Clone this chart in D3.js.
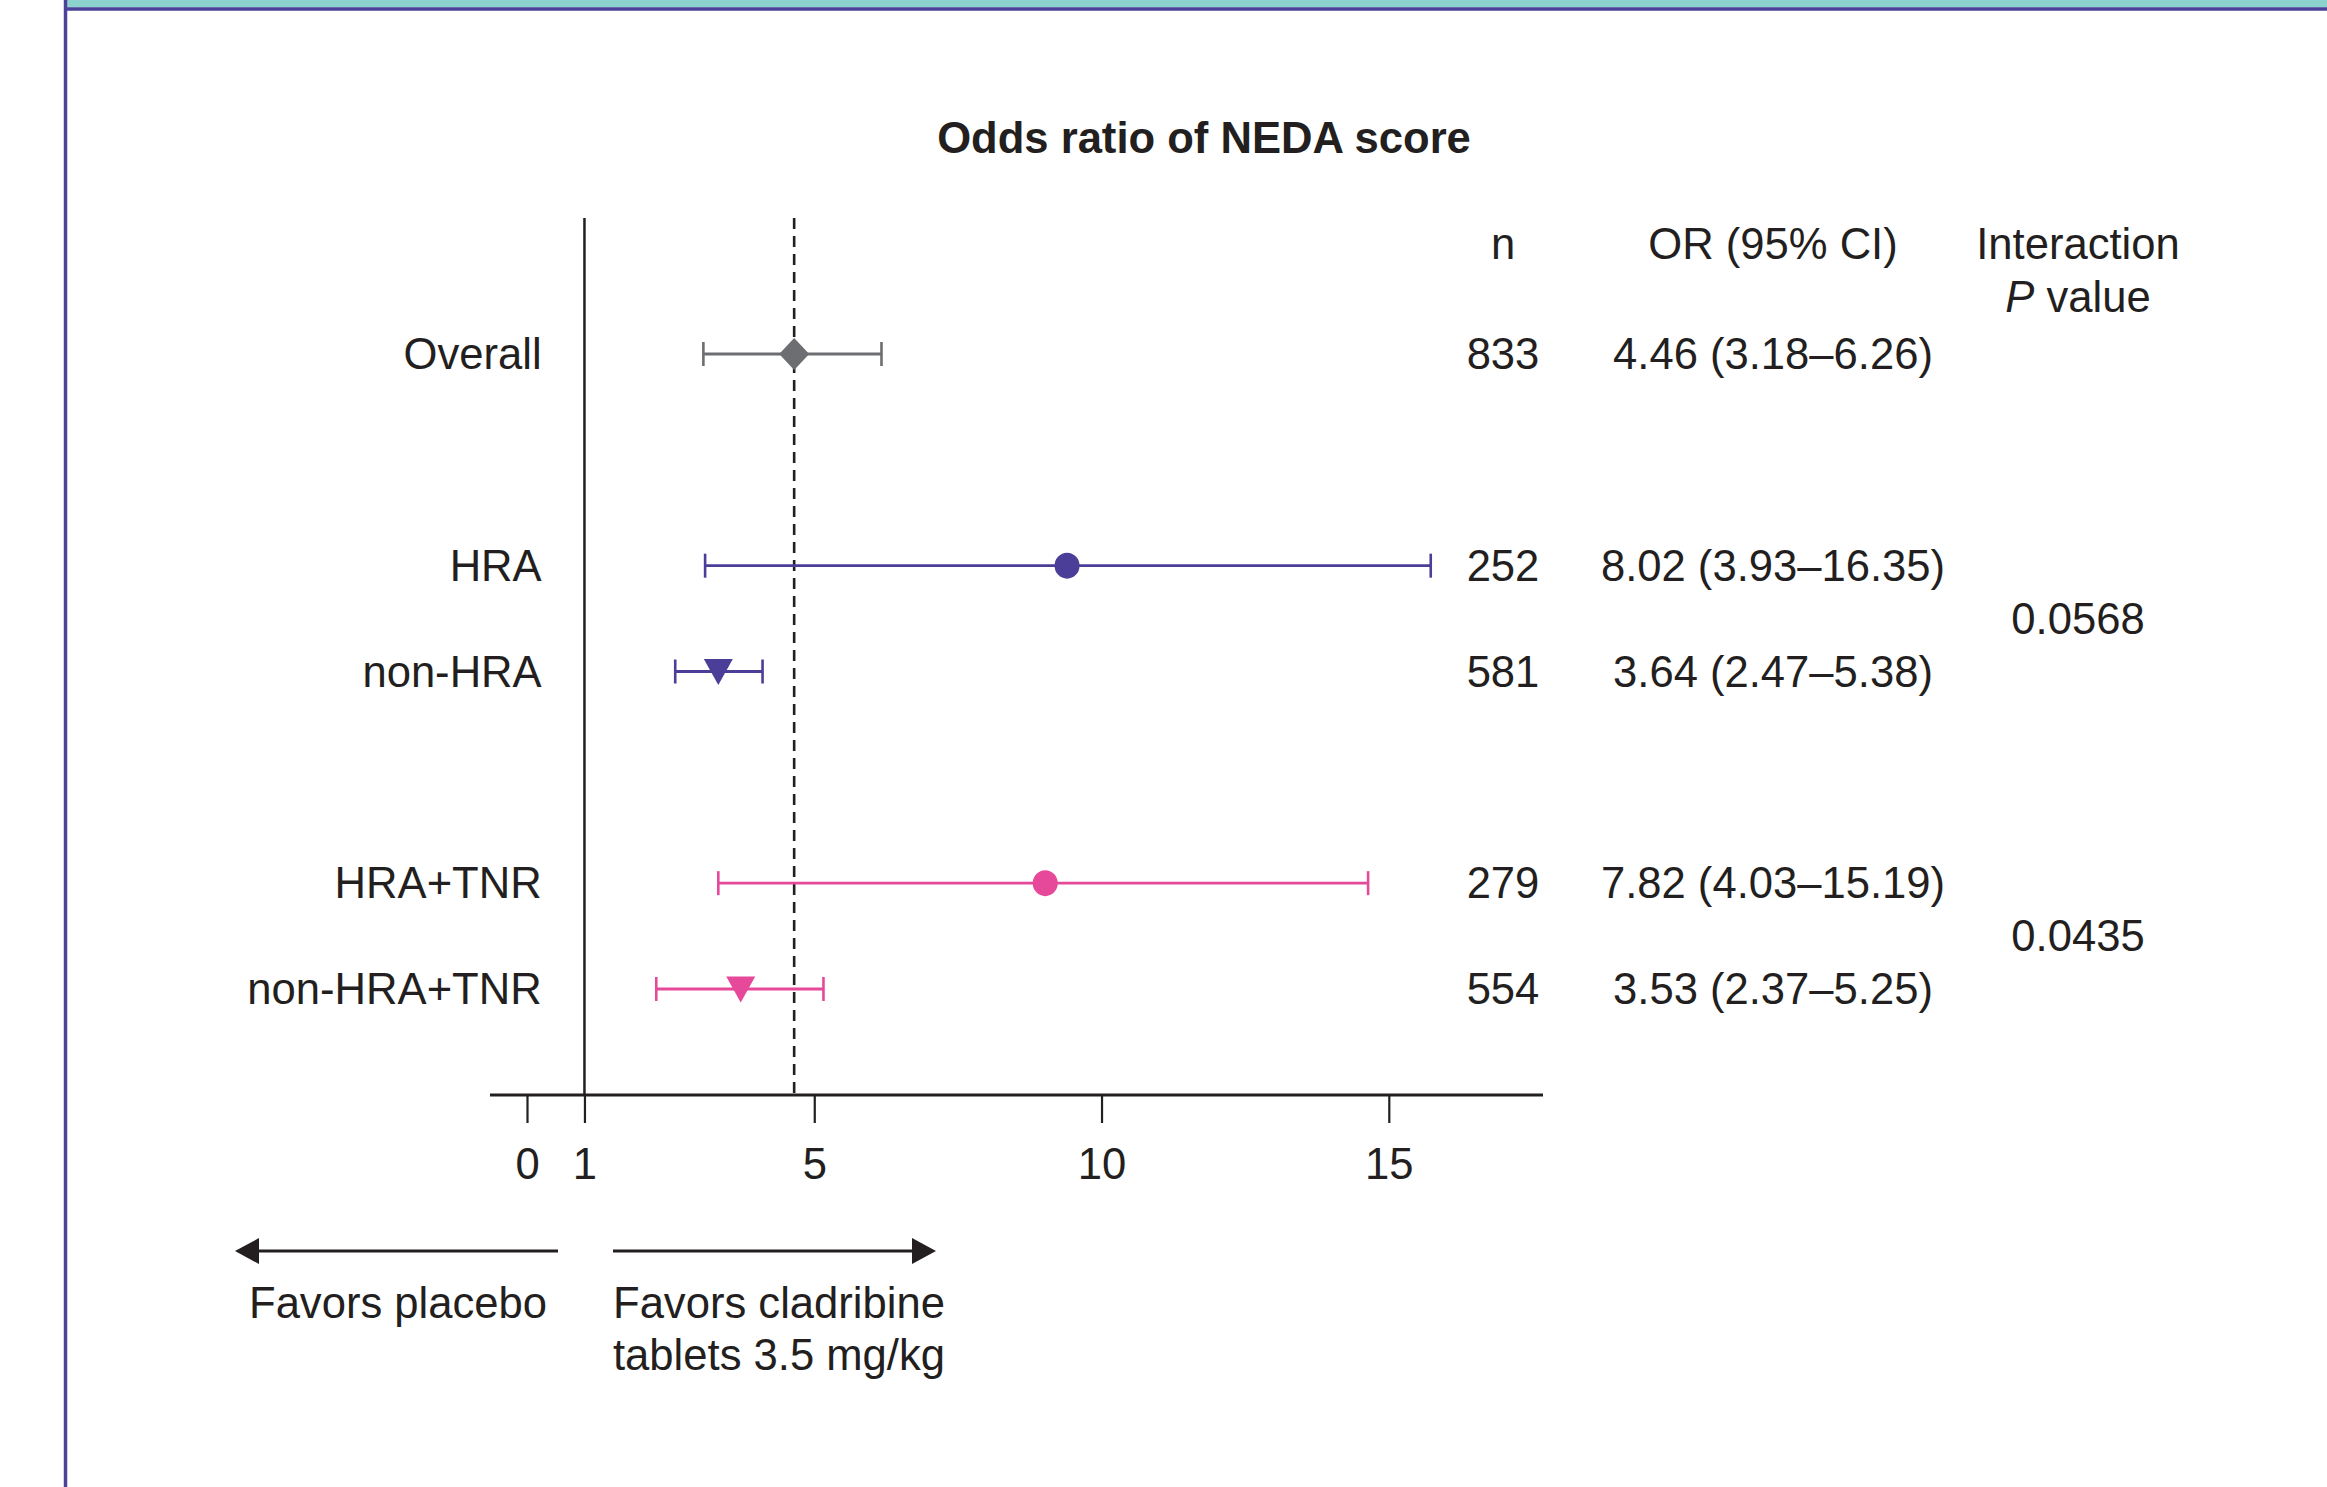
<!DOCTYPE html>
<html>
<head>
<meta charset="utf-8">
<script src="https://cdn.jsdelivr.net/npm/d3@7"></script>
<style>
  body { margin: 0; background: #fff; }
  svg { display: block; font-family: "Liberation Sans", Arial, Helvetica, sans-serif; }
</style>
</head>
<body>
<svg id="chart"></svg>
<script>
  // DATA
  const groups = ["Overall", "HRA", "non-HRA", "HRA+TNR", "non-HRA+TNR"];
  const nValues = [833, 252, 581, 279, 554];
  const orLabels = [
    "4.46 (3.18–6.26)",
    "8.02 (3.93–16.35)",
    "3.64 (2.47–5.38)",
    "7.82 (4.03–15.19)",
    "3.53 (2.37–5.25)",
  ];
  // plotted positions as drawn in the figure
  const plotOR = [4.65, 9.4, 3.33, 9.02, 3.72];
  const plotLo = [3.07, 3.1, 2.58, 3.33, 2.25];
  const plotHi = [6.17, 15.73, 4.1, 14.64, 5.16];
  const markers = ["diamond", "circle", "triangle", "circle", "triangle"];
  const colors = ["#6d6e71", "#4a3e98", "#4a3e98", "#e6489a", "#e6489a"];
  const pairs = [["HRA", "non-HRA"], ["HRA+TNR", "non-HRA+TNR"]];
  const pValues = ["0.0568", "0.0435"];
  const ticks = [0, 1, 5, 10, 15];

  // DIMENSIONS AND CONSTANTS
  const dims = { width: 2327, height: 1487 };
  const INK = "#231f20";
  const FONT = 43.6;
  const axisY = 1095;

  const svg = d3.select("#chart")
    .attr("width", dims.width)
    .attr("height", dims.height);

  // FRAME
  svg.append("rect")
    .attr("x", 67).attr("y", 0)
    .attr("width", dims.width - 67).attr("height", 7.5)
    .attr("fill", "#8cd3ce");
  svg.append("line")
    .attr("x1", 64).attr("x2", dims.width)
    .attr("y1", 9).attr("y2", 9)
    .attr("stroke", "#4b409a").attr("stroke-width", 3.5);
  svg.append("line")
    .attr("x1", 65.5).attr("x2", 65.5)
    .attr("y1", 0).attr("y2", dims.height)
    .attr("stroke", "#4b409a").attr("stroke-width", 3.5);

  // SCALES
  const x = d3.scaleLinear().domain([0, 15]).range([527, 1388.8]);
  // spacer rows separate the blocks
  const rowOrder = ["Overall", "_gap1", "HRA", "non-HRA", "_gap2", "HRA+TNR", "non-HRA+TNR"];
  const y = d3.scalePoint().domain(rowOrder).range([354, 989]);

  const rows = groups.map((g, i) => ({
    group: g,
    n: nValues[i],
    label: orLabels[i],
    or: plotOR[i],
    lo: plotLo[i],
    hi: plotHi[i],
    marker: markers[i],
    color: colors[i],
  }));

  // TITLE
  svg.append("text")
    .attr("x", 1204).attr("y", 138)
    .attr("dy", "0.35em")
    .attr("text-anchor", "middle")
    .attr("font-size", FONT).attr("font-weight", "bold")
    .attr("fill", INK)
    .text("Odds ratio of NEDA score");

  // COLUMN HEADERS
  const header = svg.append("g")
    .attr("font-size", FONT).attr("fill", INK).attr("text-anchor", "middle");
  header.append("text").attr("x", 1503).attr("y", 244).attr("dy", "0.35em").text("n");
  header.append("text").attr("x", 1773).attr("y", 244).attr("dy", "0.35em").text("OR (95% CI)");
  header.append("text").attr("x", 2078).attr("y", 244).attr("dy", "0.35em").text("Interaction");
  const pv = header.append("text").attr("x", 2078).attr("y", 297).attr("dy", "0.35em");
  pv.append("tspan").attr("font-style", "italic").text("P");
  pv.append("tspan").text(" value");

  // REFERENCE LINES
  svg.append("line")
    .attr("x1", x(1)).attr("x2", x(1))
    .attr("y1", 218).attr("y2", axisY)
    .attr("stroke", INK).attr("stroke-width", 2.5);
  svg.append("line")
    .attr("x1", x(plotOR[0])).attr("x2", x(plotOR[0]))
    .attr("y1", 218).attr("y2", axisY)
    .attr("stroke", INK).attr("stroke-width", 2.6)
    .attr("stroke-dasharray", "11,7");

  // AXIS
  svg.append("line")
    .attr("x1", 490).attr("x2", 1543)
    .attr("y1", axisY).attr("y2", axisY)
    .attr("stroke", INK).attr("stroke-width", 3);

  const axis = svg.append("g")
    .attr("transform", `translate(0,${axisY})`)
    .call(d3.axisBottom(x).tickValues(ticks).tickSize(28).tickPadding(25).tickFormat(d3.format("d")));
  axis.select(".domain").remove();
  axis.selectAll(".tick line").attr("stroke", INK).attr("stroke-width", 2.2);
  axis.selectAll(".tick text")
    .attr("font-size", FONT)
    .attr("font-family", "Liberation Sans, Arial, sans-serif")
    .attr("fill", INK);

  // ROWS
  const row = svg.selectAll("g.row")
    .data(rows)
    .join("g")
    .attr("class", "row")
    .attr("transform", (d) => `translate(0,${y(d.group)})`);

  row.append("text")
    .attr("x", 541.7).attr("dy", "0.35em")
    .attr("text-anchor", "end")
    .attr("font-size", FONT).attr("fill", INK)
    .text((d) => d.group);

  row.append("line")
    .attr("x1", (d) => x(d.lo)).attr("x2", (d) => x(d.hi))
    .attr("stroke", (d) => d.color).attr("stroke-width", 2.9);

  row.selectAll("line.cap")
    .data((d) => [d.lo, d.hi].map((v) => ({ v, color: d.color })))
    .join("line")
    .attr("class", "cap")
    .attr("x1", (c) => x(c.v)).attr("x2", (c) => x(c.v))
    .attr("y1", -12).attr("y2", 12)
    .attr("stroke", (c) => c.color).attr("stroke-width", 2.6);

  const markerPath = (type) => {
    if (type === "diamond") return "M0,-16L15,0L0,16L-15,0Z";
    if (type === "triangle") return "M-14.5,-12.5L14.5,-12.5L0,13.5Z";
    return "M0,-13A12.5,13 0 1,1 0,13A12.5,13 0 1,1 0,-13Z";
  };

  row.append("path")
    .attr("transform", (d) => `translate(${x(d.or)},0)`)
    .attr("d", (d) => markerPath(d.marker))
    .attr("fill", (d) => d.color);

  row.append("text")
    .attr("x", 1503).attr("dy", "0.35em")
    .attr("text-anchor", "middle")
    .attr("font-size", FONT).attr("fill", INK)
    .text((d) => d.n);

  row.append("text")
    .attr("x", 1773).attr("dy", "0.35em")
    .attr("text-anchor", "middle")
    .attr("font-size", FONT).attr("fill", INK)
    .text((d) => d.label);

  // INTERACTION P VALUES
  svg.selectAll("text.pval")
    .data(pairs)
    .join("text")
    .attr("class", "pval")
    .attr("x", 2078)
    .attr("y", (p) => (y(p[0]) + y(p[1])) / 2)
    .attr("dy", "0.35em")
    .attr("text-anchor", "middle")
    .attr("font-size", FONT).attr("fill", INK)
    .text((p, i) => pValues[i]);

  // FAVORS ARROWS
  const arrowY = 1251;
  const arrows = [
    { from: 558, to: 235 },
    { from: 613, to: 936 },
  ];
  svg.selectAll("g.arrow")
    .data(arrows)
    .join("g")
    .attr("class", "arrow")
    .each(function (a) {
      const g = d3.select(this);
      const dir = a.to > a.from ? 1 : -1;
      g.append("line")
        .attr("x1", a.from).attr("x2", a.to - dir * 20)
        .attr("y1", arrowY).attr("y2", arrowY)
        .attr("stroke", INK).attr("stroke-width", 3);
      g.append("path")
        .attr("d", `M${a.to},${arrowY}L${a.to - dir * 24},${arrowY - 13}L${a.to - dir * 24},${arrowY + 13}Z`)
        .attr("fill", INK);
    });

  const favor = svg.append("g").attr("font-size", FONT).attr("fill", INK);
  favor.append("text").attr("x", 249).attr("y", 1303).attr("dy", "0.35em").text("Favors placebo");
  favor.append("text").attr("x", 613).attr("y", 1303).attr("dy", "0.35em").text("Favors cladribine");
  favor.append("text").attr("x", 613).attr("y", 1355).attr("dy", "0.35em").text("tablets 3.5 mg/kg");
</script>
</body>
</html>
